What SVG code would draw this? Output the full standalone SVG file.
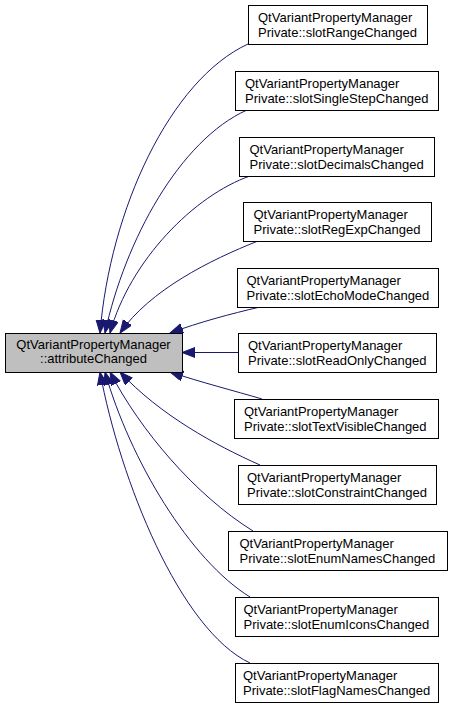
<svg xmlns="http://www.w3.org/2000/svg" width="451" height="705" viewBox="0 0 451 705">
<style>
  text { font-family: "Liberation Sans", Arial, sans-serif; font-size: 13px; fill: #000; }
  .node rect { fill: #ffffff; stroke: #000; stroke-width: 1; }
  #main rect { fill: #bfbfbf; }
  .c { text-anchor: middle; }
  .edge { fill: none; stroke: #191970; stroke-width: 1; marker-end: url(#ah); }
</style>
<defs>
  <marker id="ah" markerUnits="userSpaceOnUse" markerWidth="15" markerHeight="12" refX="13" refY="5" orient="auto">
    <path d="M0,0 L13,5 L0,10 z" fill="#191970" stroke="#191970" stroke-width="1"/>
  </marker>
</defs>
<rect width="451" height="705" fill="#fff"/>
<g id="connectors">
  <path class="edge" d="M248,44 C170,80 110,210 100,333"/>
  <path class="edge" d="M247,110 C180,140 125,240 105,333"/>
  <path class="edge" d="M250,176 C195,195 130,260 110,333"/>
  <path class="edge" d="M258,241 C210,260 150,290 120,333"/>
  <path class="edge" d="M260,307 C230,314 200,322 170,333"/>
  <path class="edge" d="M238,352.5 L182,352.5"/>
  <path class="edge" d="M262,399 C235,391 200,382 170,372"/>
  <path class="edge" d="M260,465 C215,445 160,415 120,372"/>
  <path class="edge" d="M253,531 C195,495 140,430 110,372"/>
  <path class="edge" d="M250,597 C190,560 130,460 105,372"/>
  <path class="edge" d="M250,663 C180,630 120,480 100,372"/>
</g>
<g id="main" class="node">
  <rect x="5.5" y="333.5" width="177" height="39"/>
  <text class="c" x="93.5" y="348.5">QtVariantPropertyManager</text>
  <text class="c" x="93.5" y="363">::attributeChanged</text>
</g>
<g id="n1" class="node">
  <rect x="248.5" y="5.5" width="179" height="39"/>
  <text x="258" y="22">QtVariantPropertyManager</text>
  <text x="258" y="36.5">Private::slotRangeChanged</text>
</g>
<g id="n2" class="node">
  <rect x="235.5" y="71.5" width="203" height="39"/>
  <text x="245" y="88">QtVariantPropertyManager</text>
  <text x="245" y="102.5">Private::slotSingleStepChanged</text>
</g>
<g id="n3" class="node">
  <rect x="239.5" y="137.5" width="195" height="39"/>
  <text x="249.5" y="154">QtVariantPropertyManager</text>
  <text x="249.5" y="168.5">Private::slotDecimalsChanged</text>
</g>
<g id="n4" class="node">
  <rect x="243.5" y="202.5" width="188" height="39"/>
  <text x="253.5" y="219">QtVariantPropertyManager</text>
  <text x="253.5" y="233.5">Private::slotRegExpChanged</text>
</g>
<g id="n5" class="node">
  <rect x="237.5" y="268.5" width="201" height="39"/>
  <text x="246.5" y="285">QtVariantPropertyManager</text>
  <text x="246.5" y="299.5">Private::slotEchoModeChanged</text>
</g>
<g id="n6" class="node">
  <rect x="238.5" y="333.5" width="198" height="39"/>
  <text x="248" y="350">QtVariantPropertyManager</text>
  <text x="248" y="364.5">Private::slotReadOnlyChanged</text>
</g>
<g id="n7" class="node">
  <rect x="234.5" y="399.5" width="204" height="39"/>
  <text x="244" y="416">QtVariantPropertyManager</text>
  <text x="244" y="430.5">Private::slotTextVisibleChanged</text>
</g>
<g id="n8" class="node">
  <rect x="238.5" y="465.5" width="198" height="39"/>
  <text x="247" y="482">QtVariantPropertyManager</text>
  <text x="247" y="496.5">Private::slotConstraintChanged</text>
</g>
<g id="n9" class="node">
  <rect x="228.5" y="531.5" width="219" height="39"/>
  <text x="239.5" y="548">QtVariantPropertyManager</text>
  <text x="239.5" y="562.5">Private::slotEnumNamesChanged</text>
</g>
<g id="n10" class="node">
  <rect x="235.5" y="597.5" width="203" height="39"/>
  <text x="243.5" y="614">QtVariantPropertyManager</text>
  <text x="243.5" y="628.5">Private::slotEnumIconsChanged</text>
</g>
<g id="n11" class="node">
  <rect x="235.5" y="663.5" width="203" height="39"/>
  <text x="243" y="680">QtVariantPropertyManager</text>
  <text x="243" y="694.5">Private::slotFlagNamesChanged</text>
</g>
</svg>
